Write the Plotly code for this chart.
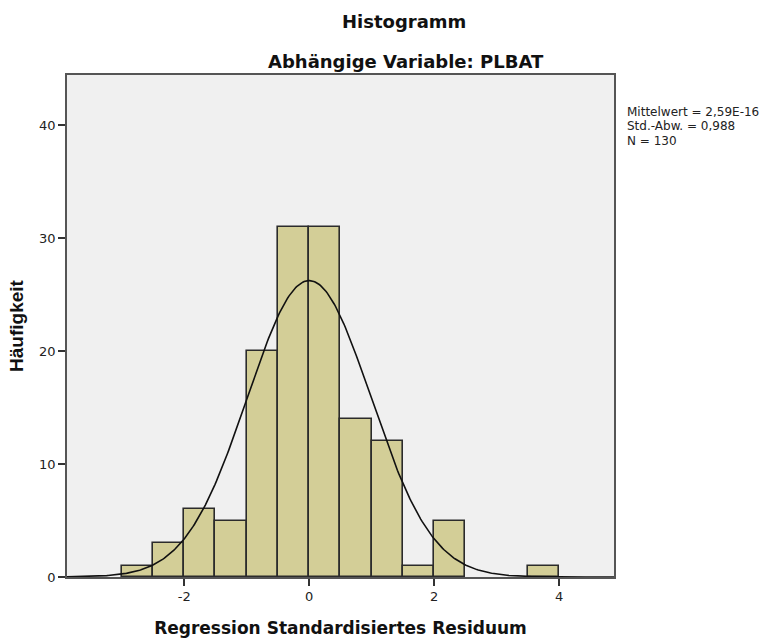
import numpy as np
import plotly.graph_objects as go

# Data
bin_centers = [-2.75, -2.25, -1.75, -1.25, -0.75, -0.25, 0.25, 0.75, 1.25, 1.75, 2.25, 3.75]
counts = [1, 3, 6, 5, 20, 31, 31, 14, 12, 1, 5, 1]
bin_width = 0.5
mean_val = 2.59e-16
std_val = 0.988
n_val = 130
x_ticks = [-2, 0, 2, 4]
y_ticks = [0, 10, 20, 30, 40]
stats_lines = ["Mittelwert = 2,59E-16", "Std.-Abw. = 0,988", "N = 130"]

REG = "DejaVu Sans, Arial, sans-serif"
BOLD = "DejaVu Sans, Arial, sans-serif"
ARIAL = "Liberation Sans, Arial, sans-serif"

X_RANGE = [-3.877, 4.88]
Y_RANGE = [0, 44.45]

xs = np.linspace(X_RANGE[0], X_RANGE[1], 400)
ys = n_val * bin_width / (std_val * np.sqrt(2 * np.pi)) * np.exp(-0.5 * ((xs - mean_val) / std_val) ** 2)

fig = go.Figure()
fig.add_trace(go.Bar(
    x=bin_centers, y=counts, width=bin_width,
    marker=dict(color="#D3CE97", line=dict(color="#2b2b2b", width=1.6)),
    hoverinfo="x+y", showlegend=False,
))
fig.add_trace(go.Scatter(
    x=xs, y=ys, mode="lines", line=dict(color="#111111", width=1.6),
    showlegend=False, hoverinfo="skip",
))

L, R, T, B = 67, 151, 75, 65
W, H = 765, 642
pw = W - L - R
ph = H - T - B


def px_to_paper(px, py):
    return (px - L) / pw, (H - B - py) / ph


annotations = []
tx, ty = px_to_paper(404, 21)
annotations.append(dict(text="<b>Histogramm</b>", x=tx, y=ty, xref="paper", yref="paper",
                        xanchor="center", yanchor="middle", showarrow=False,
                        font=dict(size=18, family=BOLD, color="#111")))
sx, sy = px_to_paper(406, 61)
annotations.append(dict(text="<b>Abhängige Variable: PLBAT</b>", x=sx, y=sy, xref="paper", yref="paper",
                        xanchor="center", yanchor="middle", showarrow=False,
                        font=dict(size=18, family=BOLD, color="#111")))
for i, line in enumerate(stats_lines):
    lx, ly = px_to_paper(624.5, 112 + i * 14.3)
    annotations.append(dict(text=line, x=lx, y=ly, xref="paper", yref="paper",
                            xanchor="left", yanchor="middle", showarrow=False,
                            font=dict(size=12, family=REG, color="#222")))

fig.update_layout(
    width=W, height=H,
    margin=dict(l=L, r=R, t=T, b=B, autoexpand=False),
    paper_bgcolor="white", plot_bgcolor="#F0F0F0",
    font=dict(family=REG, color="#222222", size=13),
    bargap=0,
    annotations=annotations,
)

axis_common = dict(
    showgrid=False, zeroline=False, showline=True, linecolor="#555555", linewidth=1.5,
    mirror=True, ticks="outside", ticklen=7, tickwidth=2, tickcolor="#333333",
    tickfont=dict(size=13, family=REG, color="#222"), automargin=False,
)
fig.update_xaxes(
    range=X_RANGE, tickvals=x_ticks, ticktext=[str(v) for v in x_ticks],
    title=dict(text="<b>Regression Standardisiertes Residuum</b>",
               font=dict(size=17, family=BOLD, color="#111"), standoff=19),
    **axis_common,
)
fig.update_yaxes(
    range=Y_RANGE, tickvals=y_ticks, ticktext=[str(v) for v in y_ticks],
    title=dict(text="<b>Häufigkeit</b>", font=dict(size=19, family=ARIAL, color="#111"), standoff=10),
    **axis_common,
)

fig.write_html("out.html")
